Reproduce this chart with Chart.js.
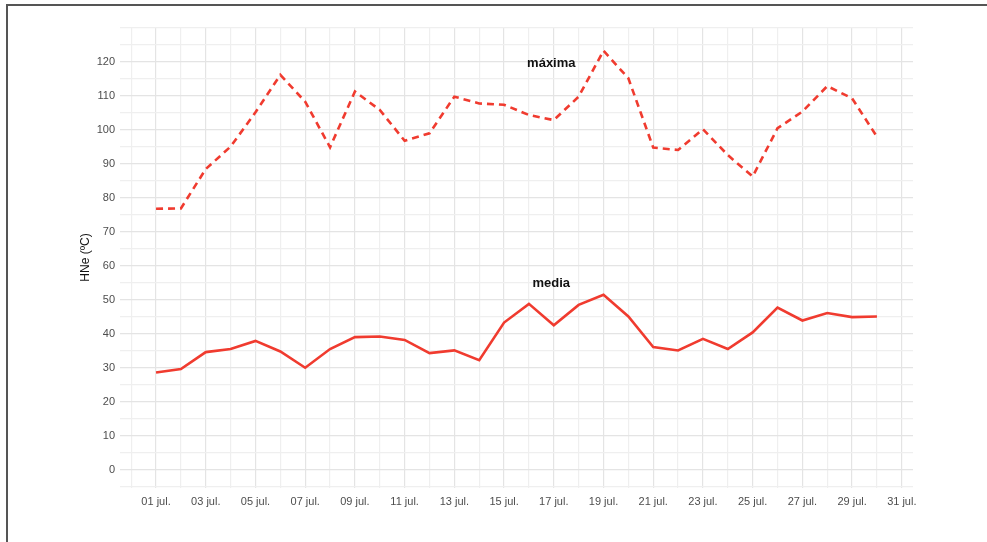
<!DOCTYPE html>
<html>
<head>
<meta charset="utf-8">
<script src="https://cdn.jsdelivr.net/npm/chart.js@4/dist/chart.umd.min.js"></script>
<style>
  body { margin: 0; background: #fff; }
  #marco { position: absolute; left: 6px; top: 4px; width: 981px; height: 538px;
           border-top: 2px solid #555; border-left: 2px solid #555; box-sizing: border-box; }
  #grafico { position: absolute; left: 0; top: 0; }
</style>
</head>
<body>
<div id="marco"></div>
<canvas id="grafico" width="987" height="542"></canvas>
<script>
// DATOS
const dias = [1, 2, 3, 4, 5, 6, 7, 8, 9, 10, 11, 12, 13, 14, 15, 16, 17, 18, 19, 20, 21, 22, 23, 24, 25, 26, 27, 28, 29, 30];
const maxima = [76.8, 76.9, 88.5, 95.1, 105.2, 116.2, 108.3, 94.9, 111.3, 105.9, 96.8, 99.0, 109.8, 107.8, 107.4, 104.4, 102.9, 109.8, 123.3, 115.2, 94.8, 94.1, 100.2, 92.6, 86.3, 100.5, 105.4, 112.9, 109.3, 98.0];
const media = [28.6, 29.6, 34.6, 35.5, 37.9, 34.8, 30.0, 35.5, 39.0, 39.2, 38.2, 34.3, 35.1, 32.2, 43.3, 48.8, 42.5, 48.5, 51.5, 45.1, 36.1, 35.1, 38.5, 35.5, 40.4, 47.7, 43.9, 46.1, 44.9, 45.1];

// ticks del eje X (un dia por linea, etiqueta en los impares)
const ticksX = [0, 1, 2, 3, 4, 5, 6, 7, 8, 9, 10, 11, 12, 13, 14, 15, 16, 17, 18, 19, 20, 21, 22, 23, 24, 25, 26, 27, 28, 29, 30, 31];
const etiquetasX = ["", "01 jul.", "", "03 jul.", "", "05 jul.", "", "07 jul.", "", "09 jul.", "", "11 jul.", "", "13 jul.", "", "15 jul.", "",
  "17 jul.", "", "19 jul.", "", "21 jul.", "", "23 jul.", "", "25 jul.", "", "27 jul.", "", "29 jul.", "", "31 jul."];
// ticks del eje Y (cada 5, etiqueta cada 10 hasta 120)
const ticksY = [-5, 0, 5, 10, 15, 20, 25, 30, 35, 40, 45, 50, 55, 60, 65, 70, 75, 80, 85, 90, 95, 100, 105, 110, 115, 120, 125, 130];
const etiquetasY = [0, 10, 20, 30, 40, 50, 60, 70, 80, 90, 100, 110, 120];

// etiquetas de las series [texto, x, y] en unidades de datos
const rotulos = [["máxima", 16.9, 119.7], ["media", 16.9, 54.7]];

const rojo = "#F03B2F";
const fuente = "'Liberation Sans', Arial, sans-serif";

// lineas de la grilla: mayores mas marcadas
function colorGrillaX(ctx) {
  return etiquetasX[ctx.tick.value] ? "#e4e4e4" : "#efefef";
}
function colorGrillaY(ctx) {
  return etiquetasY.includes(ctx.tick.value) ? "#e4e4e4" : "#efefef";
}

const rotulosPlugin = {
  id: "rotulos",
  afterDatasetsDraw(chart) {
    const c = chart.ctx;
    c.save();
    c.font = "bold 13px " + fuente;
    c.fillStyle = "#111";
    c.textAlign = "center";
    c.textBaseline = "middle";
    rotulos.forEach((r) => {
      c.fillText(r[0], chart.scales.x.getPixelForValue(r[1]), chart.scales.y.getPixelForValue(r[2]));
    });
    c.restore();
  }
};

new Chart(document.getElementById("grafico"), {
  type: "line",
  data: {
    datasets: [
      {
        label: "máxima",
        data: dias.map((d, i) => ({ x: d, y: maxima[i] })),
        borderColor: rojo,
        borderWidth: 2.6,
        borderDash: [7, 5],
        pointRadius: 0,
        tension: 0
      },
      {
        label: "media",
        data: dias.map((d, i) => ({ x: d, y: media[i] })),
        borderColor: rojo,
        borderWidth: 2.6,
        pointRadius: 0,
        tension: 0
      }
    ]
  },
  options: {
    responsive: false,
    animation: false,
    layout: { padding: { left: 78, top: 27, right: 74, bottom: 14 } },
    plugins: { legend: { display: false }, tooltip: { enabled: false } },
    scales: {
      x: {
        type: "linear",
        min: -0.45,
        max: 31.45,
        afterBuildTicks: (s) => { s.ticks = ticksX.map((v) => ({ value: v })); },
        afterFit: (s) => { s.height = 40; },
        border: { display: false },
        grid: { color: colorGrillaX, lineWidth: 1.2, drawTicks: false },
        ticks: {
          autoSkip: false,
          maxRotation: 0,
          padding: 7,
          color: "#4d4d4d",
          font: { family: fuente, size: 11 },
          callback: (v) => etiquetasX[v] || ""
        }
      },
      y: {
        min: -5.4,
        max: 130.3,
        afterBuildTicks: (s) => { s.ticks = ticksY.map((v) => ({ value: v })); },
        afterFit: (s) => { s.width = 42; },
        border: { display: false },
        grid: { color: colorGrillaY, lineWidth: 1.2, drawTicks: false },
        title: {
          display: true,
          text: "HNe (ºC)",
          color: "#111",
          font: { family: fuente, size: 12 },
          padding: { top: 0, bottom: 0 }
        },
        ticks: {
          autoSkip: false,
          padding: 5,
          color: "#4d4d4d",
          font: { family: fuente, size: 11 },
          callback: (v) => etiquetasY.includes(v) ? String(v) : ""
        }
      }
    }
  },
  plugins: [rotulosPlugin]
});
</script>
</body>
</html>
